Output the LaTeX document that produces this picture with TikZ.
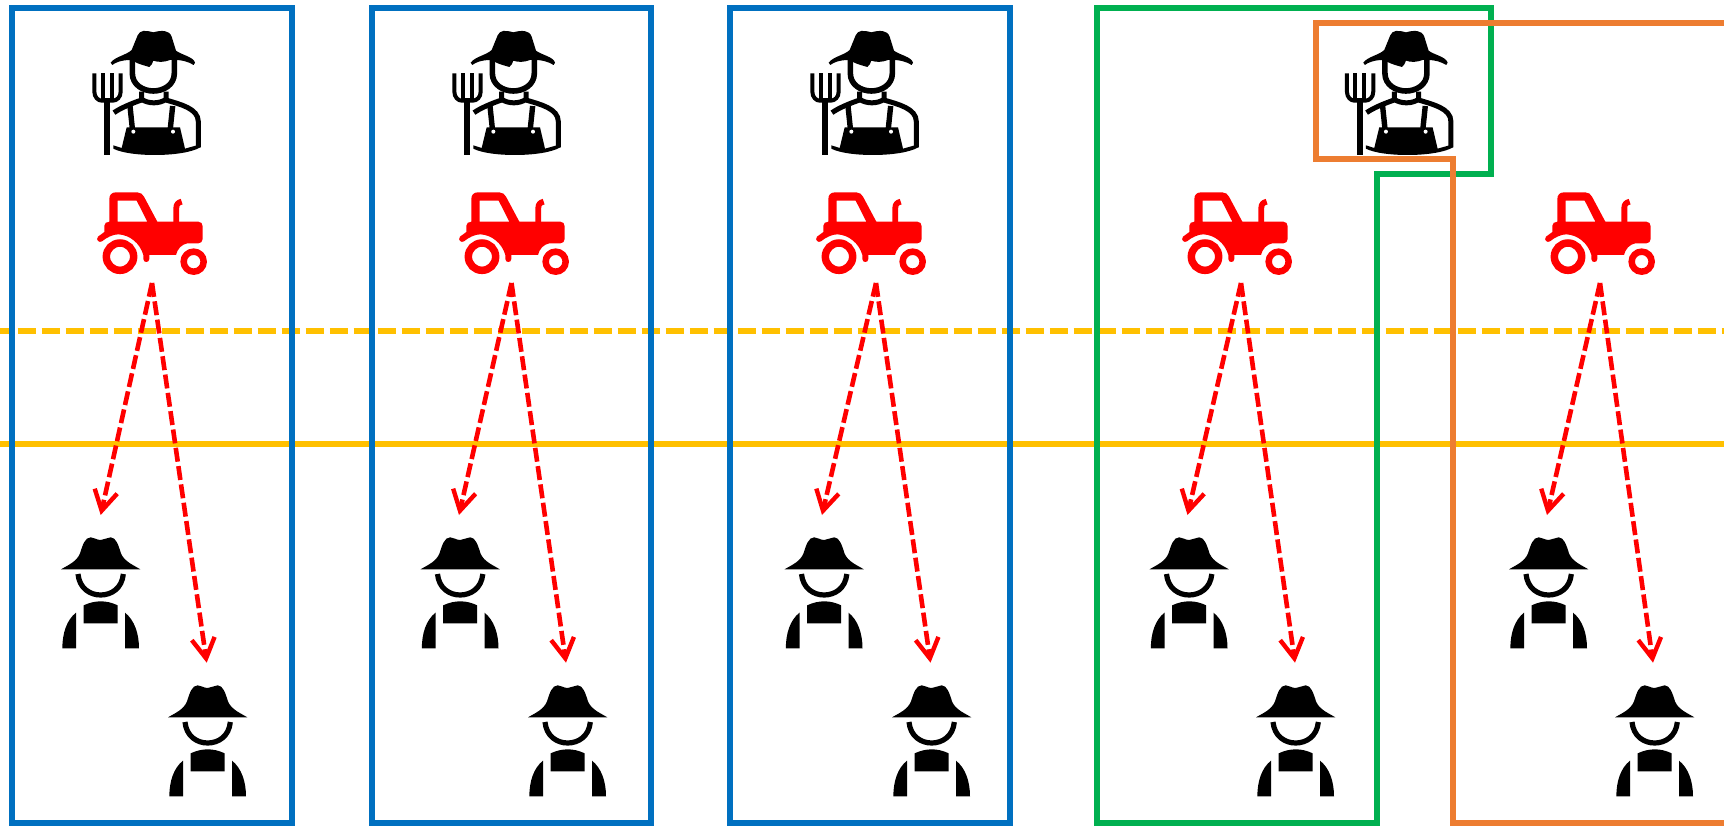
\documentclass[tikz,border=0pt]{standalone}
\usetikzlibrary{arrows.meta}
\definecolor{boxblue}{HTML}{0070C0}
\definecolor{boxgreen}{HTML}{00B050}
\definecolor{boxorange}{HTML}{ED7D31}
\definecolor{lineyellow}{HTML}{FFC000}
\definecolor{arrowred}{HTML}{FF0000}
\tikzset{
  panel/.style={draw=#1,line width=6.3pt,miter limit=10},
  levelsolid/.style={draw=lineyellow,line width=6.3pt},
  leveldash/.style={draw=lineyellow,line width=6.5pt,dash pattern=on 18.5pt off 5.5pt,dash phase=6.5pt},
  assign/.style={draw=arrowred,line width=4.6pt,dash pattern=on 14pt off 4.5pt,
    -{Straight Barb[length=20pt,width=23pt,line width=4.4pt]}},
  zunits/.style={x=0.33333pt,y=-0.33333pt},
  farmer/.pic={
    \begin{scope}[zunits]
      % hat with fringe
      \fill[black] (122,158) .. controls (135,140) and (170,135) .. (185,120)
        -- (203,76) .. controls (210,60) and (225,60) .. (250,67)
        .. controls (275,60) and (298,60) .. (305,80) -- (318,122)
        .. controls (335,135) and (370,140) .. (375,158) -- (371,165)
        .. controls (355,155) and (335,150) .. (318,150)
        -- (300,150) .. controls (285,156) and (265,158) .. (250,152)
        .. controls (248,160) and (244,166) .. (238,171)
        .. controls (225,167) and (208,163) .. (195,156)
        -- (180,150) .. controls (155,150) and (135,158) .. (127,165) -- cycle;
      % head
      \draw[black,line width=5.6pt] (187,150) -- (187,190)
        .. controls (187,225) and (220,243) .. (250,243)
        .. controls (280,243) and (313,225) .. (313,190) -- (313,150);
      % neck and collar
      \draw[black,line width=5pt] (215,245) -- (215,268)
        .. controls (235,282) and (268,282) .. (288,268) -- (288,245);
      % shoulders and arm
      \draw[black,line width=5pt,line join=round] (132,308) .. controls (150,295) and (185,280) .. (215,270);
      \draw[black,line width=5pt] (288,270) .. controls (330,283) and (385,295) .. (385,335) -- (385,412);
      % straps
      \draw[black,line width=5.4pt] (180,288) -- (188,365);
      \draw[black,line width=5.4pt] (308,288) -- (300,365);
      % bib and trousers
      \fill[black] (170,352) -- (330,352) -- (345,416) -- (391,403) -- (391,412)
        .. controls (340,442) and (180,442) .. (130,416) -- (130,406) -- (155,414) -- cycle;
      \fill[white] (190,365) circle[radius=6];
      \fill[white] (309,365) circle[radius=6];
      % pitchfork
      \fill[black] (103,265) rectangle (120,436);
      \draw[black,line width=4pt] (73,190) -- (73,245) .. controls (73,262) and (85,272) .. (95,272)
        -- (128,272) .. controls (140,272) and (152,262) .. (152,245) -- (152,190);
      \draw[black,line width=4pt] (98,190) -- (98,268);
      \draw[black,line width=4pt] (125,190) -- (125,268);
    \end{scope}
  },
  tractor/.pic={
    \begin{scope}[zunits]
      \fill[arrowred,even odd rule] (88,72) .. controls (88,60) and (95,52) .. (108,52)
        -- (172,52) .. controls (182,52) and (188,58) .. (192,65)
        -- (232,140) -- (355,140) .. controls (363,140) and (368,146) .. (368,154)
        -- (368,192) .. controls (368,200) and (362,205) .. (355,205)
        -- (322,205) .. controls (305,208) and (292,222) .. (288,240)
        -- (208,240) -- (208,252) .. controls (208,264) and (190,264) .. (190,252)
        -- (190,240) .. controls (180,205) and (150,180) .. (115,178)
        .. controls (100,178) and (80,187) .. (66,199)
        .. controls (58,205) and (46,195) .. (54,185)
        -- (73,171) -- (73,152) .. controls (73,145) and (80,140) .. (88,140) -- cycle
        (113,77) -- (170,77) -- (202,140) -- (113,140) -- cycle;
      \draw[arrowred,line width=5.8pt] (289,142) -- (289,98) .. controls (289,88) and (295,82) .. (305,80);
      \draw[arrowred,line width=7.5pt] (120,245) circle[radius=41];
      \draw[arrowred,line width=6.5pt] (341,260) circle[radius=30];
    \end{scope}
  },
  worker/.pic={
    \begin{scope}[zunits]
      \fill[black] (63,238) .. controls (85,225) and (110,215) .. (120,190)
        .. controls (128,165) and (135,142) .. (152,142)
        .. controls (162,142) and (170,150) .. (182,150)
        .. controls (194,150) and (200,142) .. (212,142)
        .. controls (228,142) and (235,165) .. (243,190)
        .. controls (253,215) and (280,225) .. (301,238) -- cycle;
      \draw[black,line width=5.2pt] (114,252) .. controls (118,295) and (150,315) .. (182,315)
        .. controls (214,315) and (246,295) .. (250,252);
      \fill[black] (131,346) .. controls (165,330) and (200,330) .. (233,346) -- (233,400) -- (131,400) -- cycle;
      \fill[black] (108,368) .. controls (80,390) and (67,430) .. (67,475) -- (108,475) -- cycle;
      \fill[black] (255,368) .. controls (283,390) and (297,430) .. (297,475) -- (255,475) -- cycle;
    \end{scope}
  }
}
\begin{document}
\begin{tikzpicture}[x=1pt,y=-1pt]
  \useasboundingbox (0,0) rectangle (1724,826);
  \fill[white] (0,0) rectangle (1724,826);
  % level lines
  \coordinate (dl) at (0,331); \coordinate (dr) at (1724,331);
  \coordinate (sl) at (0,444); \coordinate (sr) at (1724,444);
  \draw[leveldash] (dl) -- (dr);
  \draw[levelsolid] (sl) -- (sr);
  % panels
  \draw[panel=boxblue] (12.3,8.3) rectangle (292,823);
  \draw[panel=boxblue] (371.7,8.3) rectangle (651,823);
  \draw[panel=boxblue] (730.3,8.3) rectangle (1010.3,823);
  \draw[panel=boxgreen] (1097.3,8.3) -- (1490.7,8.3) -- (1490.7,174.3) -- (1377.3,174.3) -- (1377.3,823) -- (1097.3,823) -- cycle;
  \draw[panel=boxorange] (1724,22.7) -- (1316,22.7) -- (1316,159) -- (1453,159) -- (1453,823) -- (1724,823);
  % farmers
  \pic (f1) at (70,10) {farmer};
  \pic (f2) at (430,10) {farmer};
  \pic (f3) at (788,10) {farmer};
  \pic (f4) at (1322.6,10) {farmer};
  % tractors, workers, connectors
  \foreach \i/\tx/\ax/\bx/\sx/\tipa/\tipb in {
    1/80/40/147/152/100.7/206.7,
    2/442/399.5/507/511.5/459/566,
    3/799/763.5/871/876/822/930.5,
    4/1165/1128.5/1235/1241/1187.5/1295,
    5/1528/1488/1594/1600/1547/1653}{
    \pic (t\i) at (\tx,175) {tractor};
    \pic (a\i) at (\ax,490) {worker};
    \pic (b\i) at (\bx,638) {worker};
    \coordinate (s\i) at (\sx,283);
    \coordinate (ea\i) at (\tipa,515);
    \coordinate (eb\i) at (\tipb,662.7);
    \draw[assign] (s\i) -- (ea\i);
    \draw[assign] (s\i) -- (eb\i);
  }
\end{tikzpicture}
\end{document}
